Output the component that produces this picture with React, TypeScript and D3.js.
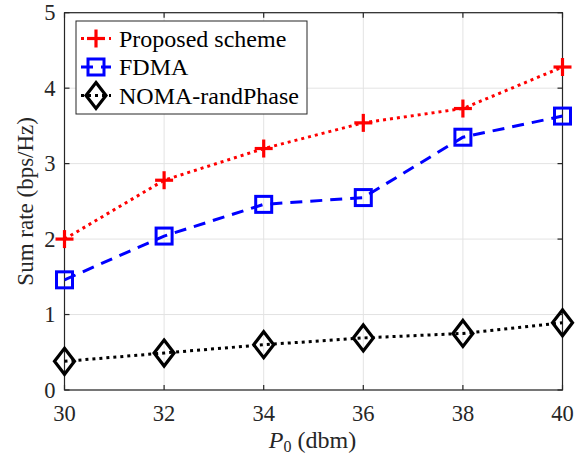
import React from "react";
import * as d3 from "d3";

const powers = [30, 32, 34, 36, 38, 40];
const proposed = [2.0, 2.78, 3.2, 3.54, 3.73, 4.28];
const fdma = [1.46, 2.04, 2.46, 2.55, 3.35, 3.63];
const nomaRand = [0.38, 0.49, 0.6, 0.69, 0.75, 0.89];
const xTicks = [30, 32, 34, 36, 38, 40];
const yTicks = [0, 1, 2, 3, 4, 5];
const seriesNames = ["Proposed scheme", "FDMA", "NOMA-randPhase"];

const W = 582;
const H = 457;
const m = { left: 64.5, right: 562.5, top: 12.7, bottom: 390 };
const font = "'Liberation Serif', 'Times New Roman', serif";

function Marker({ kind, x, y, color }: { kind: string; x: number; y: number; color: string }) {
  if (kind === "plus") {
    const s = 9;
    return (
      <g stroke={color} strokeWidth={3.2} fill="none">
        <line x1={x - s} y1={y} x2={x + s} y2={y} />
        <line x1={x} y1={y - s} x2={x} y2={y + s} />
      </g>
    );
  }
  if (kind === "square") {
    const s = 8;
    return <rect x={x - s} y={y - s} width={2 * s} height={2 * s} fill="none" stroke={color} strokeWidth={3} />;
  }
  const w = 10, h = 13;
  return (
    <path
      d={`M${x},${y - h}L${x + w},${y}L${x},${y + h}L${x - w},${y}Z`}
      fill="none"
      stroke={color}
      strokeWidth={3.2}
    />
  );
}

export default function App() {
  const x = d3.scaleLinear().domain([30, 40]).range([m.left, m.right]);
  const y = d3.scaleLinear().domain([0, 5]).range([m.bottom, m.top]);
  const line = d3
    .line<[number, number]>()
    .x((d) => x(d[0]))
    .y((d) => y(d[1]));

  const series = [
    { name: seriesNames[0], values: proposed, color: "#ff0000", dash: "3 4", kind: "plus" },
    { name: seriesNames[1], values: fdma, color: "#0000ff", dash: "12 8", kind: "square" },
    { name: seriesNames[2], values: nomaRand, color: "#000000", dash: "3 4", kind: "diamond" },
  ];

  const axisColor = "#262626";
  const tickLen = 5;

  const lg = { x: 76, y: 21, w: 231, h: 93 };

  return (
    <svg width={W} height={H} style={{ position: "absolute", left: 0, top: 0, background: "#fff" }}>
      <rect x={0} y={0} width={W} height={H} fill="#fff" />
      {/* grid */}
      <g stroke="#e3e3e3" strokeWidth={1}>
        {xTicks.map((t) => (
          <line key={"gx" + t} x1={x(t)} x2={x(t)} y1={m.top} y2={m.bottom} />
        ))}
        {yTicks.map((t) => (
          <line key={"gy" + t} x1={m.left} x2={m.right} y1={y(t)} y2={y(t)} />
        ))}
      </g>
      {/* box and ticks */}
      <g stroke={axisColor} strokeWidth={1.2} fill="none">
        <rect x={m.left} y={m.top} width={m.right - m.left} height={m.bottom - m.top} />
        {xTicks.map((t) => (
          <g key={"tx" + t}>
            <line x1={x(t)} x2={x(t)} y1={m.bottom} y2={m.bottom - tickLen} />
            <line x1={x(t)} x2={x(t)} y1={m.top} y2={m.top + tickLen} />
          </g>
        ))}
        {yTicks.map((t) => (
          <g key={"ty" + t}>
            <line x1={m.left} x2={m.left + tickLen} y1={y(t)} y2={y(t)} />
            <line x1={m.right} x2={m.right - tickLen} y1={y(t)} y2={y(t)} />
          </g>
        ))}
      </g>
      {/* tick labels */}
      <g fontFamily={font} fontSize={22.5} fill={axisColor}>
        {xTicks.map((t) => (
          <text key={"lx" + t} x={x(t)} y={421} textAnchor="middle">
            {t}
          </text>
        ))}
        {yTicks.map((t) => (
          <text key={"ly" + t} x={55.5} y={y(t) + 7.5} textAnchor="end">
            {t}
          </text>
        ))}
      </g>
      {/* axis titles */}
      <text
        fontFamily={font}
        fontSize={23}
        fill={axisColor}
        transform={`translate(33,${(m.top + m.bottom) / 2}) rotate(-90)`}
        textAnchor="middle"
      >
        Sum rate (bps/Hz)
      </text>
      <text fontFamily={font} fontSize={24} fill={axisColor} x={312.5} y={448} textAnchor="middle">
        <tspan fontStyle="italic">P</tspan>
        <tspan fontSize={16} dy={4}>0</tspan>
        <tspan dy={-4}> (dbm)</tspan>
      </text>
      {/* series */}
      {series.map((s) => {
        const pts = powers.map((p, i) => [p, s.values[i]] as [number, number]);
        return (
          <g key={s.name}>
            <path d={line(pts) || ""} fill="none" stroke={s.color} strokeWidth={3} strokeDasharray={s.dash} />
            {pts.map((d, i) => (
              <Marker key={i} kind={s.kind} x={x(d[0])} y={y(d[1])} color={s.color} />
            ))}
          </g>
        );
      })}
      {/* legend */}
      <g>
        <rect x={lg.x} y={lg.y} width={lg.w} height={lg.h} fill="#fff" stroke={axisColor} strokeWidth={1} />
        {series.map((s, i) => {
          const cy = lg.y + 17.5 + i * 28.5;
          const cx = 96;
          return (
            <g key={"lg" + s.name}>
              <line
                x1={cx - 15}
                x2={cx + 15}
                y1={cy}
                y2={cy}
                stroke={s.color}
                strokeWidth={3}
                strokeDasharray={s.dash}
              />
              <Marker kind={s.kind} x={cx} y={cy} color={s.color} />
              <text x={119} y={cy + 8} fontFamily={font} fontSize={24} fill="#000">
                {s.name}
              </text>
            </g>
          );
        })}
      </g>
    </svg>
  );
}
